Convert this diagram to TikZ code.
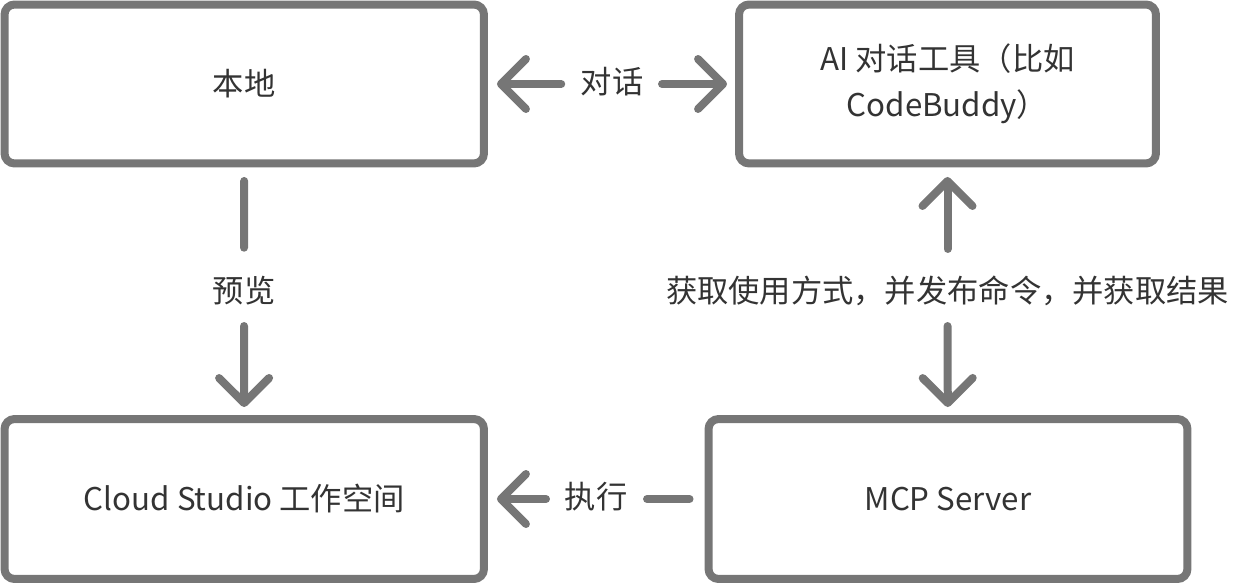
\documentclass[tikz,border=0pt]{standalone}
\usepackage{fontspec}
\setmainfont{Noto Sans CJK SC}
\usetikzlibrary{arrows.meta}
\definecolor{edgegray}{RGB}{118,118,118}
\definecolor{textgray}{RGB}{51,51,51}

\begin{document}
\begin{tikzpicture}[
			x=0.02cm, y=-0.02cm,
			box/.style={rectangle, draw=edgegray, line width=0.16cm, rounded corners=0.2cm, align=center, text=textgray, font=\fontsize{17.8pt}{26pt}\selectfont},
			lbl/.style={inner sep=0pt, outer sep=0pt, text height=14pt, text depth=3.4pt, text=textgray, font=\fontsize{17.8pt}{26pt}\selectfont},
			link/.style={draw=edgegray, line width=0.16cm, line cap=round},
			arrow/.style={link, -{Straight Barb[length=0.5cm, width=1cm, round]}}
		]
		\useasboundingbox (0,0) rectangle (1251,584);
		
		\node[box, minimum width=9.59cm, minimum height=3.18cm] (local) at (244.25,84) {本地};
		\node[box, minimum width=8.34cm, minimum height=3.18cm] (ai) at (947.5,84) {AI 对话工具（比如\\CodeBuddy）};
		\node[box, minimum width=9.59cm, minimum height=3.2cm] (cloud) at (244.25,499) {Cloud Studio 工作空间};
		\node[box, minimum width=9.58cm, minimum height=3.2cm] (mcp) at (948,499) {MCP Server};
		
		% Labels between boxes
		\node[lbl] (talk) at (612,84) {对话};
		\node[lbl] (preview) at (244,293) {预览};
		\node[lbl] (usage) at (947.5,293) {获取使用方式，并发布命令，并获取结果};
		\node[lbl] (exec) at (596,499) {执行};
		
		\draw[arrow, shorten <=0.39cm, shorten >=0.18cm] (talk) -- (local);
		\draw[arrow, shorten <=0.375cm, shorten >=0.16cm] (talk) -- (ai);
		\draw[link, shorten <=0.27cm, shorten >=0.6cm] (local) -- (preview);
		\draw[arrow, shorten <=0.355cm, shorten >=0.16cm] (preview) -- (cloud);
		\draw[arrow, shorten <=0.575cm, shorten >=0.19cm] (usage) -- (ai);
		\draw[arrow, shorten <=0.355cm, shorten >=0.16cm] (usage) -- (mcp);
		\draw[arrow, shorten <=0.375cm, shorten >=0.18cm] (exec) -- (cloud);
		\draw[link, shorten <=0.395cm, shorten >=0.3cm] (exec) -- (mcp);
		\end{tikzpicture}
\end{document}
